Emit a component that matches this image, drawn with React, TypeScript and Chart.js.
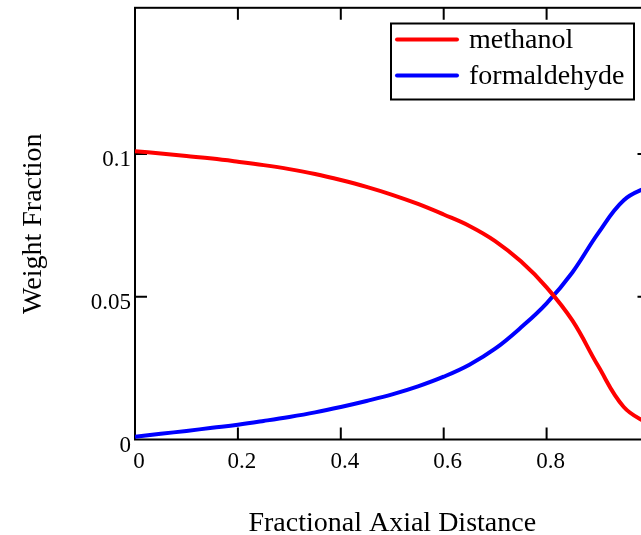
import React, { useEffect, useRef } from "react";
import { Chart, registerables } from "chart.js";

Chart.register(...registerables);

const xValues = [0, 0.05, 0.1, 0.15, 0.2, 0.25, 0.3, 0.35, 0.4, 0.45, 0.5, 0.55, 0.6, 0.65, 0.7, 0.75, 0.8, 0.85, 0.9, 0.95, 1.0];
const methanol = [0.101, 0.1002, 0.0993, 0.0984, 0.0973, 0.0961, 0.0947, 0.093, 0.0909, 0.0885, 0.0857, 0.0825, 0.0788, 0.0748, 0.0695, 0.0624, 0.0533, 0.0417, 0.0258, 0.0114, 0.0052];
const formaldehyde = [0.001, 0.002, 0.003, 0.0041, 0.0052, 0.0065, 0.0079, 0.0095, 0.0114, 0.0135, 0.0158, 0.0186, 0.022, 0.0262, 0.0318, 0.0392, 0.0477, 0.0585, 0.0722, 0.0838, 0.0888];
const seriesNames = ["methanol", "formaldehyde"];
const seriesColors = ["#ff0000", "#0000ff"];
const xTicks = [0, 0.2, 0.4, 0.6, 0.8, 1];
const yTicks = [0, 0.05, 0.1];
const xTitle = "Fractional Axial Distance";
const yTitle = "Weight Fraction";

const FONT = '"Liberation Serif", "Times New Roman", serif';
const SHIFT = 10; // canvas is shifted up by this many px inside the clipping box

const fmt = (v: number) => String(Number(v.toFixed(3)));

const framePlugin = {
  id: "frame",
  beforeDatasetsDraw(chart: any) {
    const { ctx, chartArea } = chart;
    const { left, right, top, bottom } = chartArea;
    const xs = chart.scales.x;
    const ys = chart.scales.y;
    ctx.save();
    ctx.strokeStyle = "#000";
    ctx.lineWidth = 2;
    ctx.strokeRect(left, top, right - left, bottom - top);
    const tl = 12;
    ctx.beginPath();
    xs.ticks.forEach((t: any) => {
      const px = xs.getPixelForValue(t.value);
      if (Math.abs(px - left) < 2 || Math.abs(px - right) < 2) return;
      ctx.moveTo(px, bottom);
      ctx.lineTo(px, bottom - tl);
      ctx.moveTo(px, top);
      ctx.lineTo(px, top + tl);
    });
    ys.ticks.forEach((t: any) => {
      const py = ys.getPixelForValue(t.value);
      if (Math.abs(py - bottom) < 2 || Math.abs(py - top) < 2) return;
      ctx.moveTo(left, py);
      ctx.lineTo(left + tl, py);
      ctx.moveTo(right, py);
      ctx.lineTo(right - tl, py);
    });
    ctx.stroke();
    ctx.restore();
  },
};

const legendPlugin = {
  id: "boxLegend",
  afterDraw(chart: any) {
    const { ctx } = chart;
    const bx = 391, by = 23.5 + SHIFT, bw = 243, bh = 76;
    ctx.save();
    ctx.fillStyle = "#fff";
    ctx.fillRect(bx, by, bw, bh);
    ctx.strokeStyle = "#000";
    ctx.lineWidth = 2;
    ctx.strokeRect(bx, by, bw, bh);
    const rows = [39.5 + SHIFT, 75.5 + SHIFT];
    seriesNames.forEach((name, i) => {
      ctx.strokeStyle = seriesColors[i];
      ctx.lineWidth = 4;
      ctx.lineCap = "round";
      ctx.beginPath();
      ctx.moveTo(397, rows[i]);
      ctx.lineTo(457, rows[i]);
      ctx.stroke();
      ctx.fillStyle = "#000";
      ctx.font = `28px ${FONT}`;
      ctx.textBaseline = "middle";
      ctx.textAlign = "left";
      ctx.fillText(name, 469, rows[i] + 1);
    });
    ctx.restore();
  },
};

export default function App() {
  const ref = useRef<HTMLCanvasElement | null>(null);
  useEffect(() => {
    if (!ref.current) return;
    const chart = new Chart(ref.current, {
      type: "line",
      data: {
        datasets: [methanol, formaldehyde].map((arr, i) => ({
          label: seriesNames[i],
          data: xValues.map((x, j) => ({ x, y: arr[j] })),
          borderColor: seriesColors[i],
          backgroundColor: seriesColors[i],
          borderWidth: 4,
          pointRadius: 0,
          tension: 0.4,
          fill: false,
        })),
      },
      options: {
        animation: false,
        responsive: false,
        maintainAspectRatio: false,
        layout: { autoPadding: false, padding: { left: 0, top: 7, right: 50.5, bottom: 0 } },
        plugins: { legend: { display: false }, tooltip: { enabled: false } },
        scales: {
          x: {
            type: "linear",
            min: 0,
            max: 1,
            grid: { display: false, drawTicks: false },
            border: { display: false },
            afterBuildTicks: (s: any) => {
              s.ticks = xTicks.map((value) => ({ value }));
            },
            ticks: {
              color: "#000",
              font: { family: FONT, size: 23 },
              padding: 9,
              labelOffset: 4,
              maxRotation: 0,
              autoSkip: false,
              callback: (v: any) => fmt(Number(v)),
            },
            title: {
              display: true,
              text: xTitle,
              color: "#000",
              font: { family: FONT, size: 28 },
              padding: { top: 0, bottom: 5 },
            },
            afterFit: (s: any) => {
              s.height = 105.5;
            },
          },
          y: {
            type: "linear",
            min: 0,
            max: 0.1512,
            grid: { display: false, drawTicks: false },
            border: { display: false },
            afterBuildTicks: (s: any) => {
              s.ticks = yTicks.map((value) => ({ value }));
            },
            ticks: {
              color: "#000",
              font: { family: FONT, size: 23 },
              padding: 4,
              labelOffset: 6,
              autoSkip: false,
              callback: (v: any) => fmt(Number(v)),
            },
            title: {
              display: true,
              text: yTitle,
              color: "#000",
              font: { family: FONT, size: 28 },
              padding: { top: 17, bottom: 0 },
            },
            afterFit: (s: any) => {
              s.width = 135;
            },
          },
        },
      },
      plugins: [framePlugin, legendPlugin],
    });
    return () => chart.destroy();
  }, []);
  return (
    <div style={{ position: "absolute", left: 0, top: 0, width: 641, height: 535, overflow: "hidden", background: "#fff" }}>
      <canvas
        ref={ref}
        width={700}
        height={545 + SHIFT}
        style={{ display: "block", position: "absolute", left: 0, top: -SHIFT }}
      />
    </div>
  );
}
